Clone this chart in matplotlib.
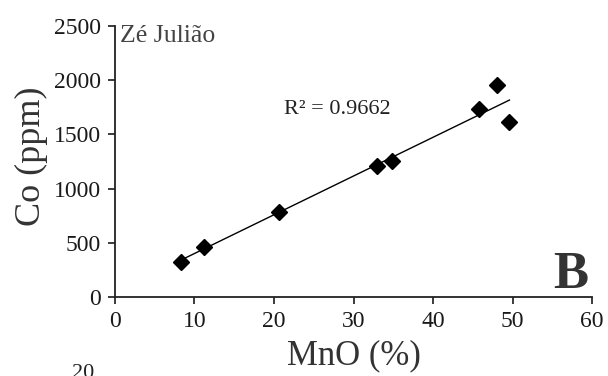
import numpy as np
import matplotlib
matplotlib.use("Agg")
import matplotlib.pyplot as plt

# MnO (%) vs Co (ppm), Zé Julião samples
mno = [8.3, 11.2, 20.6, 33.0, 34.8, 45.8, 48.0, 49.6]
co = [324, 463, 787, 1213, 1250, 1731, 1954, 1611]
r2_label = "R\u00b2 = 0.9662"

xticks = [0, 10, 20, 30, 40, 50, 60]
yticks = [0, 500, 1000, 1500, 2000, 2500]

plt.rcParams['font.family'] = ['Liberation Serif', 'DejaVu Serif']

fig = plt.figure(figsize=(6.08, 3.76), dpi=100)
ax = fig.add_axes([0.189, 0.210, 0.785, 0.721])

# linear trend line over the data range
slope, icpt = np.polyfit(mno, co, 1)
xs = np.array([min(mno), max(mno)])
ax.plot(xs, slope * xs + icpt, color='black', lw=1.0, zorder=2)
ax.plot(mno, co, linestyle='none', marker='D', ms=8, color='black', zorder=3)

ax.set_xlim(0, 60)
ax.set_ylim(0, 2500)
ax.set_xticks(xticks)
ax.set_yticks(yticks)
ax.tick_params(direction='out', length=5, width=1.2, labelsize=17, colors='#1a1a1a', pad=5)
for s in ['top', 'right']:
    ax.spines[s].set_visible(False)
for s in ['left', 'bottom']:
    ax.spines[s].set_linewidth(1.3)
    ax.spines[s].set_color('#222222')

ax.set_xlabel("MnO (%)", fontsize=25, color='#333333')
ax.set_ylabel("Co (ppm)", fontsize=26, color='#333333')
ax.xaxis.set_label_coords(0.5, -0.155)
ax.yaxis.set_label_coords(-0.14, 0.52)

ax.text(21.2, 1725, r2_label, fontsize=16, color='#222222', va='center')
ax.text(0.6, 2510, "Zé Julião", fontsize=18.5, color='#444444', va='top')
ax.text(59.5, -20, "B", fontsize=38, fontweight='bold', color='#333333', ha='right', va='bottom')

# top of the next panel's axis label peeking in at the bottom
fig.text(0.118, -0.018, "20", fontsize=16, color='#222222', va='bottom', ha='left')

fig.savefig("out.png", dpi=100)
